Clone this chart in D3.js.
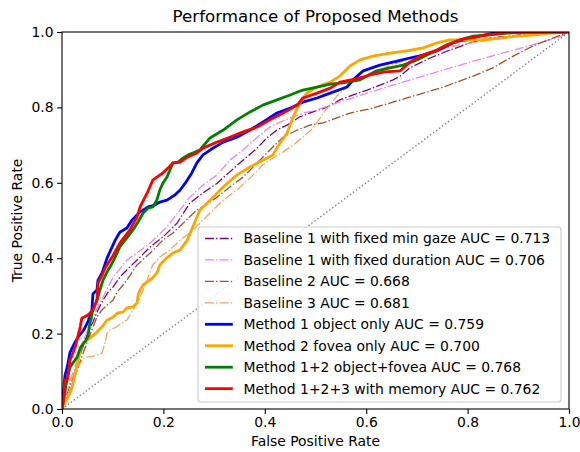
<!DOCTYPE html>
<html>
<head>
<meta charset="utf-8">
<script src="https://cdn.jsdelivr.net/npm/d3@7"></script>
<style>
  body { margin: 0; background: #fff; }
  text { font-family: "DejaVu Sans", sans-serif; fill: #000; }
</style>
</head>
<body>
<div class="roc-plot"></div>
<script>
// ROC points: [false positive rate, true positive rate]
const baseline1Gaze = [[0,0],[0.002,0.011],[0.012,0.050],[0.022,0.085],[0.032,0.130],[0.041,0.164],[0.051,0.202],
  [0.061,0.231],[0.071,0.263],[0.081,0.289],[0.091,0.310],[0.101,0.324],[0.114,0.350],[0.134,0.377],[0.154,0.403],
  [0.174,0.430],[0.199,0.456],[0.227,0.493],[0.252,0.546],[0.278,0.573],[0.306,0.599],[0.331,0.629],[0.357,0.660],
  [0.385,0.692],[0.404,0.719],[0.424,0.740],[0.444,0.753],[0.469,0.775],[0.495,0.788],[0.523,0.801],[0.548,0.820],
  [0.574,0.833],[0.602,0.846],[0.627,0.859],[0.653,0.873],[0.667,0.883],[0.686,0.905],[0.726,0.931],[0.765,0.952],
  [0.805,0.971],[0.844,0.984],[0.903,0.992],[1,1]];
const baseline1Duration = [[0,0],[0.002,0.016],[0.012,0.058],[0.022,0.098],[0.032,0.138],[0.041,0.178],[0.051,0.210],
  [0.061,0.241],[0.071,0.271],[0.081,0.297],[0.101,0.350],[0.128,0.395],[0.148,0.414],[0.174,0.440],[0.207,0.483],
  [0.252,0.562],[0.278,0.594],[0.306,0.621],[0.331,0.660],[0.357,0.687],[0.385,0.721],[0.410,0.748],[0.430,0.761],
  [0.450,0.772],[0.475,0.785],[0.503,0.793],[0.529,0.806],[0.554,0.817],[0.602,0.838],[0.667,0.865],[0.732,0.891],
  [0.799,0.918],[0.864,0.942],[0.929,0.966],[0.982,0.987],[1,1]];
const baseline2 = [[0,0],[0.002,0.011],[0.016,0.050],[0.030,0.103],[0.039,0.138],[0.049,0.175],[0.059,0.210],
  [0.069,0.244],[0.079,0.263],[0.089,0.276],[0.101,0.289],[0.108,0.308],[0.128,0.342],[0.148,0.382],[0.174,0.414],
  [0.199,0.448],[0.219,0.467],[0.239,0.493],[0.266,0.528],[0.278,0.536],[0.306,0.562],[0.331,0.589],[0.357,0.615],
  [0.385,0.653],[0.410,0.687],[0.436,0.721],[0.464,0.740],[0.489,0.753],[0.515,0.759],[0.542,0.772],[0.568,0.785],
  [0.613,0.798],[0.680,0.825],[0.746,0.851],[0.811,0.883],[0.850,0.905],[0.890,0.936],[0.929,0.963],[0.968,0.984],[1,1]];
const baseline3 = [[0,0],[0.002,0.016],[0.016,0.069],[0.026,0.103],[0.036,0.122],[0.045,0.138],[0.055,0.138],
  [0.069,0.143],[0.079,0.149],[0.085,0.175],[0.089,0.202],[0.095,0.210],[0.108,0.218],[0.118,0.228],[0.128,0.236],
  [0.134,0.249],[0.140,0.263],[0.148,0.281],[0.154,0.297],[0.160,0.316],[0.168,0.342],[0.179,0.382],[0.193,0.403],
  [0.213,0.422],[0.233,0.448],[0.252,0.467],[0.272,0.493],[0.292,0.520],[0.318,0.554],[0.345,0.581],[0.371,0.613],
  [0.396,0.647],[0.416,0.666],[0.436,0.682],[0.456,0.700],[0.475,0.721],[0.495,0.745],[0.509,0.772],[0.523,0.798],
  [0.542,0.830],[0.562,0.854],[0.578,0.873],[0.607,0.891],[0.667,0.920],[0.726,0.947],[0.785,0.966],[0.844,0.979],
  [0.903,0.989],[1,1]];
const method1 = [[0,0],[0.002,0.037],[0.006,0.090],[0.010,0.109],[0.016,0.151],[0.026,0.178],[0.032,0.191],
  [0.043,0.210],[0.051,0.231],[0.059,0.263],[0.061,0.305],[0.069,0.316],[0.071,0.342],[0.079,0.361],[0.089,0.401],
  [0.105,0.448],[0.114,0.469],[0.128,0.480],[0.138,0.501],[0.154,0.523],[0.170,0.536],[0.183,0.541],[0.193,0.549],
  [0.207,0.554],[0.223,0.568],[0.233,0.581],[0.243,0.599],[0.256,0.626],[0.266,0.653],[0.278,0.674],[0.298,0.692],
  [0.318,0.708],[0.345,0.721],[0.371,0.740],[0.396,0.761],[0.424,0.785],[0.450,0.798],[0.475,0.814],[0.503,0.825],
  [0.529,0.838],[0.562,0.854],[0.578,0.878],[0.594,0.897],[0.627,0.912],[0.661,0.923],[0.686,0.931],[0.712,0.939],
  [0.740,0.950],[0.759,0.963],[0.779,0.976],[0.799,0.979],[0.824,0.989],[0.850,0.997],[0.890,1],[1,1]];
const method2 = [[0,0],[0.006,0.016],[0.012,0.032],[0.020,0.058],[0.026,0.095],[0.032,0.130],[0.036,0.156],
  [0.041,0.175],[0.055,0.188],[0.069,0.204],[0.079,0.218],[0.089,0.236],[0.101,0.244],[0.110,0.255],[0.120,0.257],
  [0.128,0.268],[0.140,0.271],[0.148,0.281],[0.150,0.302],[0.154,0.316],[0.160,0.329],[0.168,0.337],[0.178,0.347],
  [0.187,0.361],[0.193,0.382],[0.207,0.401],[0.219,0.414],[0.233,0.422],[0.247,0.448],[0.258,0.483],[0.272,0.528],
  [0.292,0.554],[0.318,0.589],[0.345,0.621],[0.371,0.642],[0.396,0.660],[0.416,0.674],[0.430,0.706],[0.444,0.732],
  [0.456,0.775],[0.469,0.812],[0.483,0.838],[0.503,0.854],[0.529,0.867],[0.548,0.883],[0.568,0.910],[0.588,0.926],
  [0.613,0.936],[0.647,0.944],[0.680,0.950],[0.712,0.958],[0.740,0.971],[0.765,0.979],[0.799,0.979],[0.830,0.979],
  [0.864,0.984],[0.897,0.989],[0.929,0.992],[0.963,0.997],[1,1]];
const method12 = [[0,0],[0.002,0.016],[0.008,0.064],[0.012,0.090],[0.016,0.111],[0.030,0.138],[0.036,0.162],
  [0.045,0.178],[0.051,0.191],[0.055,0.228],[0.061,0.263],[0.069,0.289],[0.075,0.316],[0.081,0.342],[0.091,0.369],
  [0.095,0.377],[0.105,0.403],[0.114,0.430],[0.128,0.454],[0.140,0.475],[0.150,0.496],[0.160,0.520],[0.170,0.533],
  [0.179,0.536],[0.187,0.554],[0.193,0.581],[0.199,0.599],[0.207,0.615],[0.213,0.634],[0.219,0.653],[0.229,0.655],
  [0.239,0.666],[0.249,0.674],[0.258,0.679],[0.272,0.687],[0.292,0.719],[0.318,0.740],[0.345,0.767],[0.371,0.788],
  [0.396,0.806],[0.424,0.820],[0.450,0.833],[0.475,0.846],[0.503,0.854],[0.529,0.862],[0.554,0.865],[0.588,0.873],
  [0.602,0.883],[0.621,0.897],[0.647,0.905],[0.673,0.912],[0.700,0.926],[0.720,0.939],[0.740,0.952],[0.759,0.966],
  [0.785,0.979],[0.811,0.989],[0.838,0.992],[0.878,0.997],[0.917,1],[1,1]];
const method123 = [[0,0],[0.002,0.016],[0.006,0.077],[0.010,0.077],[0.016,0.130],[0.026,0.164],[0.036,0.218],
  [0.039,0.241],[0.051,0.249],[0.061,0.263],[0.069,0.289],[0.071,0.334],[0.079,0.355],[0.085,0.374],[0.099,0.403],
  [0.114,0.440],[0.134,0.475],[0.148,0.509],[0.154,0.536],[0.168,0.573],[0.179,0.607],[0.187,0.615],[0.199,0.626],
  [0.209,0.639],[0.219,0.653],[0.233,0.655],[0.247,0.668],[0.266,0.679],[0.278,0.692],[0.306,0.708],[0.331,0.721],
  [0.357,0.735],[0.385,0.748],[0.410,0.767],[0.436,0.785],[0.464,0.806],[0.475,0.825],[0.503,0.838],[0.529,0.851],
  [0.548,0.867],[0.578,0.875],[0.607,0.886],[0.637,0.894],[0.667,0.897],[0.686,0.920],[0.706,0.936],[0.740,0.952],
  [0.765,0.968],[0.791,0.981],[0.824,0.989],[0.864,0.997],[0.903,1],[1,1]];
const chance = [[0,0],[1,1]];

const labels = [
  "Baseline 1 with fixed min gaze AUC = 0.713",
  "Baseline 1 with fixed duration AUC = 0.706",
  "Baseline 2 AUC = 0.668",
  "Baseline 3 AUC = 0.681",
  "Method 1 object only AUC = 0.759",
  "Method 2 fovea only AUC = 0.700",
  "Method 1+2 object+fovea AUC = 0.768",
  "Method 1+2+3 with memory AUC = 0.762"
];
const ticks = [0, 0.2, 0.4, 0.6, 0.8, 1.0];

// look of each series (same order as labels)
const dashDot = "8.9,2.2,1.4,2.2";
const looks = [
  {color: "#800080", width: 1.3, dash: dashDot},
  {color: "#ee82ee", width: 1.3, dash: dashDot},
  {color: "#a0522d", width: 1.3, dash: dashDot},
  {color: "#f4a460", width: 1.3, dash: dashDot},
  {color: "#0000ff", width: 2.8, dash: null},
  {color: "#ffa500", width: 2.8, dash: null},
  {color: "#008000", width: 2.8, dash: null},
  {color: "#ff0000", width: 2.8, dash: null}
];
const series = [baseline1Gaze, baseline1Duration, baseline2, baseline3, method1, method2, method12, method123];

const width = 580, height = 452;
const plotLeft = 62, plotRight = 569, plotTop = 32, plotBottom = 409;

const svg = d3.select('.roc-plot')
  .append('svg')
  .attr('width', width)
  .attr('height', height);

const x = d3.scaleLinear().domain([0, 1]).range([plotLeft, plotRight]);
const y = d3.scaleLinear().domain([0, 1]).range([plotBottom, plotTop]);

svg.append("clipPath").attr("id", "plotclip")
  .append("rect")
  .attr("x", plotLeft).attr("y", plotTop)
  .attr("width", plotRight - plotLeft).attr("height", plotBottom - plotTop);

const line = d3.line().x(d => x(d[0])).y(d => y(d[1]));

const plot = svg.append("g").attr("clip-path", "url(#plotclip)");

plot.selectAll("path.roc")
  .data(series)
  .enter()
  .append("path")
  .attr("class", "roc")
  .attr("d", line)
  .attr("fill", "none")
  .attr("stroke", (d, i) => looks[i].color)
  .attr("stroke-width", (d, i) => looks[i].width)
  .attr("stroke-dasharray", (d, i) => looks[i].dash)
  .attr("stroke-linejoin", "round");

plot.append("path")
  .attr("d", line(chance))
  .attr("fill", "none")
  .attr("stroke", "#808080")
  .attr("stroke-width", 1.4)
  .attr("stroke-dasharray", "1.4,2.3");

// axes
const xAxis = d3.axisBottom(x).tickValues(ticks).tickFormat(d3.format(".1f")).tickSize(4.9).tickPadding(3.5);
const yAxis = d3.axisLeft(y).tickValues(ticks).tickFormat(d3.format(".1f")).tickSize(4.9).tickPadding(3.5);

const gx = svg.append("g").attr("transform", `translate(0,${plotBottom})`).call(xAxis);
const gy = svg.append("g").attr("transform", `translate(${plotLeft},0)`).call(yAxis);
[gx, gy].forEach(g => {
  g.select(".domain").remove();
  g.selectAll(".tick line").attr("stroke", "#000").attr("stroke-width", 1.1);
  g.selectAll(".tick text").attr("font-size", 13.9).attr("font-family", "DejaVu Sans").attr("fill", "#000");
});

svg.append("rect")
  .attr("x", plotLeft).attr("y", plotTop)
  .attr("width", plotRight - plotLeft).attr("height", plotBottom - plotTop)
  .attr("fill", "none")
  .attr("stroke", "#000")
  .attr("stroke-width", 1.1);

svg.append("text")
  .attr("x", (plotLeft + plotRight) / 2).attr("y", 22)
  .attr("text-anchor", "middle")
  .attr("font-size", 16.7)
  .text("Performance of Proposed Methods");

svg.append("text")
  .attr("x", (plotLeft + plotRight) / 2).attr("y", 446)
  .attr("text-anchor", "middle")
  .attr("font-size", 13.9)
  .text("False Positive Rate");

svg.append("text")
  .attr("transform", `translate(22,${(plotTop + plotBottom) / 2}) rotate(-90)`)
  .attr("text-anchor", "middle")
  .attr("font-size", 13.9)
  .text("True Positive Rate");

// legend
const legend = svg.append("g");
legend.append("rect")
  .attr("x", 198).attr("y", 227)
  .attr("width", 363).attr("height", 175)
  .attr("rx", 3).attr("ry", 3)
  .attr("fill", "#fff").attr("fill-opacity", 0.8)
  .attr("stroke", "#cccccc").attr("stroke-width", 1.1);

const rows = legend.selectAll("g.row")
  .data(labels)
  .enter()
  .append("g")
  .attr("class", "row")
  .attr("transform", (d, i) => `translate(205,${238.5 + i * 21.45})`);

rows.append("line")
  .attr("x1", 0).attr("x2", 27.8)
  .attr("y1", 0).attr("y2", 0)
  .attr("stroke", (d, i) => looks[i].color)
  .attr("stroke-width", (d, i) => looks[i].width)
  .attr("stroke-dasharray", (d, i) => looks[i].dash);

rows.append("text")
  .attr("x", 38.6)
  .attr("dy", "0.35em")
  .attr("font-size", 13.9)
  .text(d => d);
</script>
</body>
</html>
